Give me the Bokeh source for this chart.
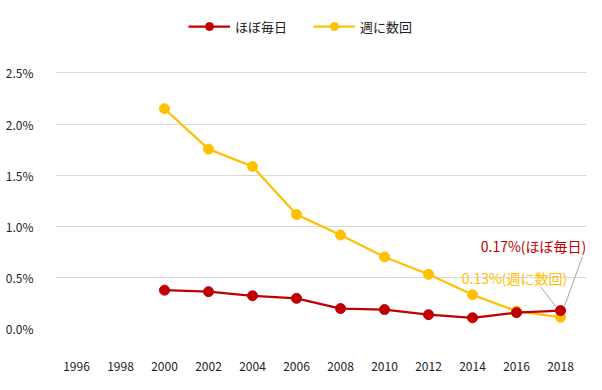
from bokeh.plotting import figure
from bokeh.models import (ColumnDataSource, Legend, LegendItem, Label, FixedTicker,
                          PrintfTickFormatter, Range1d)
from bokeh.embed import file_html
from bokeh.resources import INLINE

years = [2000, 2002, 2004, 2006, 2008, 2010, 2012, 2014, 2016, 2018]
daily = [0.375, 0.36, 0.32, 0.295, 0.195, 0.185, 0.135, 0.105, 0.155, 0.175]
weekly = [2.15, 1.755, 1.585, 1.115, 0.915, 0.70, 0.53, 0.33, 0.17, 0.11]
x_ticks = [1996, 1998, 2000, 2002, 2004, 2006, 2008, 2010, 2012, 2014, 2016, 2018]
y_ticks = [0.0, 0.5, 1.0, 1.5, 2.0, 2.5]
name_daily = "ほぼ毎日"
name_weekly = "週に数回"
label_daily = "0.17%(ほぼ毎日)"
label_weekly = "0.13%(週に数回)"

RED = "#C00000"
YEL = "#FFC000"
FONT = "Noto Sans CJK JP"
TXT = "#222222"

p = figure(width=586, height=374, output_backend="svg", toolbar_location=None,
           x_range=Range1d(1995.045, 2019.18), y_range=Range1d(0, 3.16),
           min_border_left=55, min_border_right=0, min_border_top=5,
           min_border_bottom=46)
p.outline_line_color = None
p.xgrid.grid_line_color = None
p.ygrid.grid_line_color = "#D9D9D9"
p.ygrid.grid_line_width = 1

for ax in (p.xaxis[0], p.yaxis[0]):
    ax.axis_line_color = None
    ax.major_tick_line_color = None
    ax.minor_tick_line_color = None
    ax.major_label_text_font = FONT
    ax.major_label_text_font_size = "12px"
    ax.major_label_text_color = TXT

p.xaxis.ticker = FixedTicker(ticks=x_ticks)
p.xaxis.major_label_standoff = 27
p.yaxis.ticker = FixedTicker(ticks=y_ticks)
p.yaxis.formatter = PrintfTickFormatter(format="%.1f%%")
p.yaxis.major_label_standoff = 16

# leader lines from the labels to the last points
lx, ld, lw = years[-1], daily[-1], weekly[-1]
lead = ColumnDataSource(dict(
    x0=[lx + 0.99, lx - 0.91], y0=[ld + 0.525, lw + 0.30],
    x1=[lx + 0.18, lx - 0.15], y1=[ld + 0.043, lw + 0.086]))
p.segment(x0="x0", y0="y0", x1="x1", y1="y1", source=lead,
          line_color="#A6A6A6", line_width=1)

src = ColumnDataSource(dict(x=years, d=daily, w=weekly))
lw_r = p.line("x", "w", source=src, line_color=YEL, line_width=2.25)
sw_r = p.scatter("x", "w", source=src, size=10, fill_color=YEL, line_color=YEL)
ld_r = p.line("x", "d", source=src, line_color=RED, line_width=2.25)
sd_r = p.scatter("x", "d", source=src, size=10, fill_color=RED, line_color=RED)

p.add_layout(Label(x=lx, y=ld, text=label_daily, x_offset=-27, y_offset=65,
                   text_align="center", text_baseline="middle",
                   text_font=FONT, text_font_size="14px", text_color=RED))
p.add_layout(Label(x=lx, y=lw, text=label_weekly, x_offset=-46, y_offset=39,
                   text_align="center", text_baseline="middle",
                   text_font=FONT, text_font_size="14px", text_color=YEL))

legend = Legend(items=[LegendItem(label=name_daily, renderers=[ld_r, sd_r]),
                       LegendItem(label=name_weekly, renderers=[lw_r, sw_r])],
                orientation="horizontal", location=(133, 292),
                glyph_width=42, glyph_height=20, label_height=20,
                label_standoff=5, spacing=26, padding=0, margin=0,
                border_line_color=None, background_fill_alpha=0,
                label_text_font=FONT, label_text_font_size="13px",
                label_text_color=TXT)
p.add_layout(legend, "center")

open("out.html", "w").write(file_html(p, INLINE))
